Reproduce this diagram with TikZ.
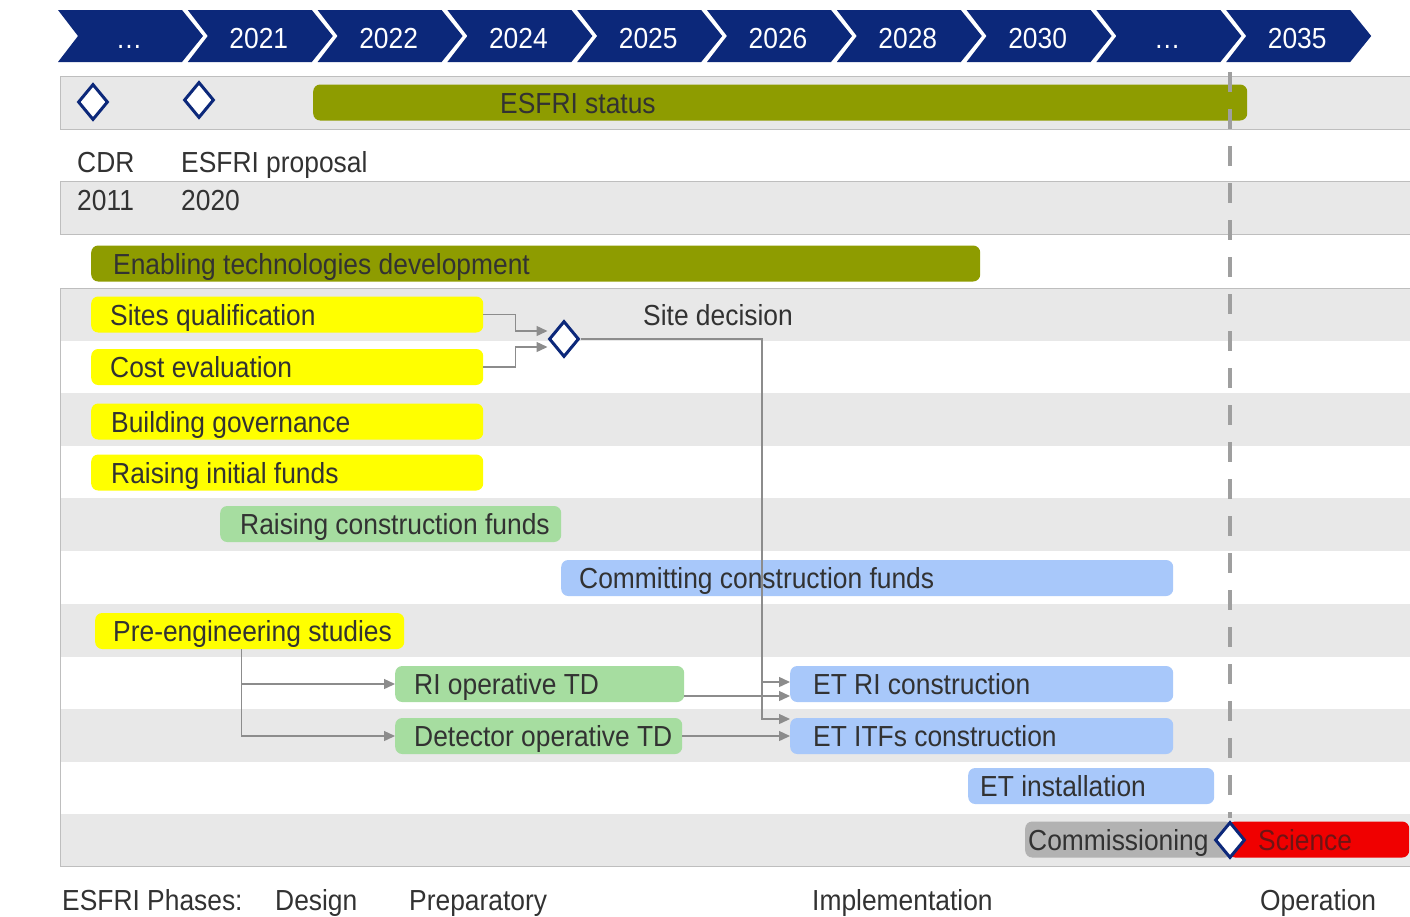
\documentclass[tikz,border=0pt]{standalone}
\usepackage{fontspec}
\setmainfont{Liberation Sans}[FakeStretch=0.91]
\usetikzlibrary{shapes.geometric, arrows.meta}

\definecolor{navy}{RGB}{12,40,122}
\definecolor{rowgray}{RGB}{232,232,232}
\definecolor{framegray}{RGB}{190,190,190}
\definecolor{olive}{RGB}{142,156,0}
\definecolor{syellow}{RGB}{255,255,0}
\definecolor{sgreen}{RGB}{166,221,160}
\definecolor{sblue}{RGB}{168,200,250}
\definecolor{sgray}{RGB}{178,178,178}
\definecolor{sred}{RGB}{240,0,0}
\definecolor{sciencetxt}{RGB}{110,20,20}
\definecolor{txt}{RGB}{50,50,50}
\definecolor{conngray}{RGB}{140,140,140}

\tikzset{
  bar/.style={rounded corners=7pt, anchor=west, minimum height=36pt, inner sep=0pt},
  bartext/.style={anchor=base west, inner sep=0pt, text=txt},
  plain/.style={anchor=base west, inner sep=0pt, text=txt},
  year/.style={anchor=base, inner sep=0pt, text=white},
  milestone/.style={diamond, draw=navy, line width=3pt, fill=white, minimum width=30pt, minimum height=36pt, inner sep=0pt},
  conn/.style={draw=conngray, line width=1.4pt, -{Triangle[length=11pt,width=10pt]}},
  dashline/.style={draw=gray!75, line width=3.5pt, dash pattern=on 20pt off 17pt},
  frame/.style={draw=framegray, line width=1pt},
}

% name, left, right, centre y, fill, text offset, text
\newcommand{\taskbar}[7]{%
  \node[bar, fill=#5, minimum width={(#3-#2)*1pt}] (#1) at (#2,#4) {};
  \node[bartext] (#1-t) at ([xshift=#6pt, yshift=-10.5pt]#1.west) {#7};}

\begin{document}
\begin{tikzpicture}[x=1pt, y=-1pt, font=\fontsize{29}{32}\selectfont]
	\useasboundingbox (0,0) rectangle (1410,916);
	% Timeline header:
	\foreach \yr [count=\i from 0] in {\dots,2021,2022,2024,2025,2026,2028,2030,\dots,2035} {
		\pgfmathsetmacro\L{58+129.8*\i}
		\fill[navy] (\L,10) -- ++(124,0) -- ++(21,26) -- ++(-21,26) -- ++(-124,0) -- ++(20,-26) -- cycle;
		\node[year] (yr\i) at (\L+71,48) {\yr};
	}
	% Table rows:
	\fill[rowgray] (60,76) rectangle (1410,129);
	\fill[rowgray] (60,181) rectangle (1410,234);
	\draw[frame] (1410,76) -- (60,76) -- (60,129) -- (1410,129);
	\draw[frame] (1410,181) -- (60,181) -- (60,234) -- (1410,234);
	\foreach \y in {288,393,498,604,709,814}
		\fill[rowgray] (60,\y) rectangle (1410,\y+52.5);
	\draw[frame] (1410,288) -- (60,288) -- (60,866) -- (1410,866);
	% Bars:
	\taskbar{status}{313}{1247}{102.5}{olive}{187}{ESFRI status}
	\taskbar{etd}{91}{980}{263.5}{olive}{22}{Enabling technologies development}
	\taskbar{sq}{91}{483}{314.5}{syellow}{19}{Sites qualification}
	\taskbar{ce}{91}{483}{367}{syellow}{19}{Cost evaluation}
	\taskbar{bg}{91}{483}{421.5}{syellow}{20}{Building governance}
	\taskbar{rif}{91}{483}{472.5}{syellow}{20}{Raising initial funds}
	\taskbar{rcf}{220}{561}{524}{sgreen}{20}{Raising construction funds}
	\taskbar{ccf}{561}{1173}{578}{sblue}{18}{Committing construction funds}
	\taskbar{pre}{95}{404}{631}{syellow}{18}{Pre-engineering studies}
	\taskbar{riop}{395}{684}{684}{sgreen}{19}{RI operative TD}
	\taskbar{detop}{395}{682}{736}{sgreen}{19}{Detector operative TD}
	\taskbar{etri}{790}{1173}{684}{sblue}{23}{ET RI construction}
	\taskbar{etitf}{790}{1173}{736}{sblue}{23}{ET ITFs construction}
	\taskbar{etinst}{968}{1214}{786}{sblue}{12}{ET installation}
	\taskbar{comm}{1025}{1232}{839.5}{sgray}{3}{Commissioning}
	\taskbar{sci}{1228}{1409}{839.5}{sred}{30}{\color{sciencetxt}Science}
	% Texts:
	\node[plain] (cdr-t) at (77,172) {CDR};
	\node[plain] (cdr-y) at (77,210) {2011};
	\node[plain] (prop-t) at (181,172) {ESFRI proposal};
	\node[plain] (prop-y) at (181,210) {2020};
	\node[plain] (dec-t) at (643,325) {Site decision};
	\node[plain] (ph) at (62,910) {ESFRI Phases:};
	\node[plain] (ph-des) at (275,910) {Design};
	\node[plain] (ph-prep) at (409,910) {Preparatory};
	\node[plain] (ph-imp) at (812,910) {Implementation};
	\node[plain] (ph-op) at (1260,910) {Operation};
	% Milestones:
	\node[milestone] (cdr) at (93,102) {};
	\node[milestone] (prop) at (199,100) {};
	\node[milestone] (dec) at (564,339) {};
	\coordinate (top) at (1230,72);
	\draw[dashline] (top) -- (1230,818);
	\node[milestone] (launch) at (1230,840) {};
	% Wires:
	\draw[conn] (sq.east) -- ++(32,0) |- ([yshift=8pt]dec.west);
	\draw[conn] (ce.east) -- ++(32,0) |- ([yshift=-8pt]dec.west);
	\draw[conn] (dec.east) -| ([xshift=-28pt, yshift=2pt]etri.west) -- ([yshift=2pt]etri.west);
	\draw[conn] ([xshift=-28pt, yshift=2pt]etri.west) |- ([yshift=17pt]etitf.west);
	\draw[conn] ([yshift=-12pt]riop.east) -- ([yshift=-12pt]etri.west);
	\draw[conn] (detop.east) -- (etitf.west);
	\draw[conn] ([xshift=-8pt]pre.south) |- (riop.west);
	\draw[conn] ([xshift=-8pt]pre.south) |- (detop.west);
\end{tikzpicture}
\end{document}
